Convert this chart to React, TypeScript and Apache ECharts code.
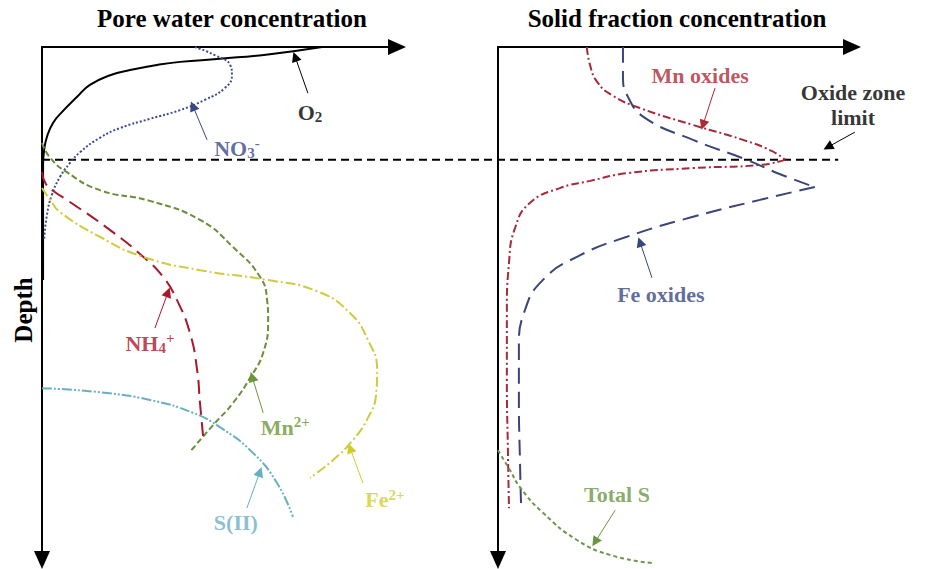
import React, { useEffect, useRef } from 'react';
import * as echarts from 'echarts';

// ---- Titles / names ----
const panelTitles = ['Pore water concentration', 'Solid fraction concentration'];
const depthName = 'Depth';

// ---- Pore water profiles: [concentration (a.u.), depth (a.u.)] ----
const o2 = [[78.9, 0], [64.2, 1.4], [50.1, 2.3], [38.9, 2.9], [32.4, 3.5], [24.8, 4.5], [19.2, 5.5], [13.5, 7.4], [9.9, 9.7], [5.6, 12.7], [3.1, 14.8], [1.4, 17.5], [0.6, 20.1], [0.3, 23.0], [0.3, 45.4]];
const no3 = [[43.1, 0], [48.7, 1.6], [53.0, 3.5], [53.5, 5.5], [51.5, 8.0], [45.9, 10.3], [38.9, 12.3], [30.4, 14.0], [22.0, 15.8], [16.3, 17.7], [10.7, 20.5], [7.9, 22.6], [5.1, 25.3], [2.8, 28.8], [1.4, 32.7], [0.6, 37.6]];
const mn2 = [[0, 18.7], [2.3, 21.6], [7.0, 24.4], [16.3, 27.9], [30.4, 30.0], [44.5, 33.7], [53.8, 39.0], [61.4, 44.8], [63.4, 49.3], [63.7, 53.2], [62.3, 59.6], [58.6, 64.5], [53.8, 69.4], [48.2, 73.7], [41.7, 78.9]];
const nh4 = [[0, 24.4], [1.1, 26.7], [3.7, 28.3], [7.0, 29.8], [19.2, 35.7], [28.5, 40.9], [34.1, 44.8], [38.0, 49.3], [41.7, 55.8], [43.7, 63.0], [44.5, 69.4], [45.4, 76.0]];
const fe2 = [[0, 27.5], [2.3, 29.8], [5.1, 32.2], [16.3, 37.0], [28.5, 40.9], [44.5, 43.5], [63.4, 45.4], [77.5, 47.6], [86.8, 51.9], [91.8, 57.1], [94.4, 63.0], [94.1, 67.8], [91.8, 72.3], [87.6, 76.6], [82.0, 80.5], [75.5, 84.0]];
const s2 = [[0, 66.5], [16.3, 67.3], [30.4, 68.8], [42.5, 71.3], [50.1, 74.1], [59.4, 79.1], [66.2, 85.0], [70.7, 91.6]];

// ---- Solid fraction profiles ----
const mnOxUpper = [[25.1, 0], [26.0, 3.5], [28.0, 6.8], [32.2, 9.4], [40.1, 11.9], [55.1, 15.2], [69.2, 18.1], [77.4, 20.3], [81.1, 22.0]];
const mnOxLower = [[81.1, 22.0], [74.0, 23.0], [55.1, 23.6], [36.4, 24.6], [26.0, 26.1], [17.5, 27.5], [9.0, 30.4], [4.8, 35.3], [3.1, 42.1], [2.5, 51.9], [2.5, 64.9], [2.8, 78.6], [3.1, 89.9]];
const feOxUpper = [[35.3, 0], [35.3, 5.5], [36.7, 9.7], [41.5, 13.8], [55.1, 18.1], [70.3, 22.0], [79.7, 24.8], [89.5, 27.3]];
const feOxLower = [[89.5, 27.3], [74.0, 29.8], [55.1, 33.1], [36.4, 37.0], [22.3, 40.9], [12.7, 45.4], [7.6, 51.3], [5.9, 58.5], [5.9, 68.8], [6.2, 80.5], [6.5, 88.9]];
const totalS = [[0, 78.6], [3.4, 82.5], [6.2, 85.8], [12.7, 90.8], [22.3, 96.1], [31.6, 99.0], [43.5, 100.6]];

// ---- Oxide zone limit (full-width frame) ----
const oxideLimit = [[0, 22], [98.3, 22]];

// ---- Annotation labels ----
const poreLabels = [
  { text: '{m|O}{sub|2}', at: [75.5, 12.7], color: '#000000' },
  { text: '{m|NO}{sub|3}{sup|-}', at: [54.9, 19.7], color: '#3a4788' },
  { text: '{m|NH}{sub|4}{sup|+}', at: [30.4, 57.7], color: '#a8182c' },
  { text: '{m|Mn}{sup|2+}', at: [68.5, 74.1], color: '#6a9636' },
  { text: '{m|Fe}{sup|2+}', at: [96.6, 88.3], color: '#d2cd2e' },
  { text: '{m|S(II)}', at: [54.6, 92.6], color: '#68b0c4' },
];
const solidLabels = [
  { text: '{m|Mn oxides}', at: [57.1, 5.5], color: '#ad2a35' },
  { text: '{m|Fe oxides}', at: [46.0, 48.3], color: '#384680' },
  { text: '{m|Total S}', at: [33.6, 87.3], color: '#6a9644' },
  { text: '{m|Oxide zone}\n{m|limit}', at: [100.3, 11.3], color: '#000000' },
];

// ---- Annotation arrows ----
const poreArrows = [
  { from: [74.9, 9.0], to: [71.3, 1.9], color: '#000000' },
  { from: [46.5, 18.1], to: [42.5, 11.5], color: '#3a4788' },
  { from: [31.8, 54.8], to: [35.5, 47.8], color: '#a8182c' },
  { from: [62.3, 71.3], to: [59.2, 64.3], color: '#6a9636' },
  { from: [90.4, 85.0], to: [86.8, 78.2], color: '#d2cd2e' },
  { from: [57.7, 89.9], to: [61.4, 82.8], color: '#68b0c4' },
];
const solidArrows = [
  { from: [61.3, 8.0], to: [57.9, 15.2], color: '#ad2a35' },
  { from: [43.5, 45.0], to: [40.1, 38.0], color: '#384680' },
  { from: [33.1, 90.3], to: [27.4, 96.5], color: '#6a9644' },
  { from: [100.8, 16.6], to: [93.2, 19.5], color: '#000000' },
];

const FONT = '"Liberation Serif", "DejaVu Serif", serif';

const rich = {
  m: { fontFamily: FONT, fontWeight: 'bold', fontSize: 22, lineHeight: 25 },
  sub: { fontFamily: FONT, fontWeight: 'bold', fontSize: 15, lineHeight: 14, verticalAlign: 'bottom' },
  sup: { fontFamily: FONT, fontWeight: 'bold', fontSize: 15, lineHeight: 14, verticalAlign: 'top' },
};

function profile(data: number[][], color: string, dash: any, idx: number, smooth: number | boolean = 0.5) {
  return {
    type: 'line',
    xAxisIndex: idx,
    yAxisIndex: idx,
    data,
    smooth,
    showSymbol: false,
    symbol: 'none',
    clip: false,
    silent: true,
    lineStyle: { color, width: 2, type: dash },
    z: 3,
  };
}

function labelSeries(items: any[], idx: number) {
  return {
    type: 'scatter',
    xAxisIndex: idx,
    yAxisIndex: idx,
    symbolSize: 1,
    clip: false,
    silent: true,
    itemStyle: { color: 'rgba(0,0,0,0)' },
    z: 5,
    data: items.map((it) => ({
      value: it.at,
      label: { show: true, position: 'inside', formatter: it.text, color: it.color, rich, align: 'center' },
    })),
  };
}

function arrowSeries(items: any[], idx: number) {
  return {
    type: 'lines',
    coordinateSystem: 'cartesian2d',
    xAxisIndex: idx,
    yAxisIndex: idx,
    clip: false,
    silent: true,
    symbol: ['none', 'triangle'],
    symbolSize: [7, 10],
    z: 5,
    lineStyle: { width: 1, opacity: 1 },
    data: items.map((a) => ({ coords: [a.from, a.to], lineStyle: { color: a.color, width: 1, opacity: 1 } })),
  };
}

const axisLineStyle = { color: '#000', width: 2 };

function xAx(gridIndex: number, visible: boolean) {
  return {
    gridIndex,
    type: 'value',
    min: 0,
    max: 100,
    position: 'top',
    show: visible,
    axisLine: { show: visible, onZero: false, symbol: ['none', 'triangle'], symbolSize: [16, 18], lineStyle: axisLineStyle },
    axisTick: { show: false },
    axisLabel: { show: false },
    splitLine: { show: false },
  };
}
function yAx(gridIndex: number, visible: boolean) {
  return {
    gridIndex,
    type: 'value',
    min: 0,
    max: 100,
    inverse: true,
    show: visible,
    axisLine: { show: visible, onZero: false, symbol: ['triangle', 'none'], symbolSize: [16, 18], lineStyle: axisLineStyle },
    axisTick: { show: false },
    axisLabel: { show: false },
    splitLine: { show: false },
  };
}

export default function App() {
  const ref = useRef<HTMLDivElement>(null);
  useEffect(() => {
    if (!ref.current) return;
    const chart = echarts.init(ref.current, null, { renderer: 'svg' });
    chart.setOption({
      animation: false,
      backgroundColor: '#ffffff',
      grid: [
        { left: 42, top: 47, width: 355, height: 513 },
        { left: 498, top: 47, width: 354, height: 513 },
        { left: 42, top: 47, width: 810, height: 513 },
      ],
      xAxis: [xAx(0, true), xAx(1, true), xAx(2, false)],
      yAxis: [yAx(0, true), yAx(1, true), yAx(2, false)],
      graphic: [
        { type: 'text', x: 232, y: 18, style: { text: panelTitles[0], font: `bold 25px ${FONT}`, fill: '#000', textAlign: 'center', textVerticalAlign: 'middle' } },
        { type: 'text', x: 677, y: 18, style: { text: panelTitles[1], font: `bold 25px ${FONT}`, fill: '#000', textAlign: 'center', textVerticalAlign: 'middle' } },
        { type: 'text', x: 23, y: 310, rotation: Math.PI / 2, style: { text: depthName, font: `bold 25px ${FONT}`, fill: '#000', textAlign: 'center', textVerticalAlign: 'middle' } },
      ],
      series: [
        profile(oxideLimit, '#000000', [8, 5], 2, false),
        profile(o2, '#000000', 'solid', 0),
        profile(no3, '#3d4b8e', [2, 2], 0),
        profile(mn2, '#6b8e3a', [6, 3], 0),
        profile(nh4, '#a8182c', [14, 7], 0),
        profile(fe2, '#cfcb3e', [10, 3, 2, 3], 0),
        profile(s2, '#6ab0c0', [10, 2, 2, 2, 2, 2], 0),
        profile(mnOxUpper, '#a52a3a', [8, 3, 2, 3], 1),
        profile(mnOxLower, '#a52a3a', [8, 3, 2, 3], 1),
        profile(feOxUpper, '#3a4676', [16, 8], 1),
        profile(feOxLower, '#3a4676', [16, 8], 1),
        profile(totalS, '#6e9650', [4, 3], 1),
        arrowSeries(poreArrows, 0),
        arrowSeries(solidArrows, 1),
        labelSeries(poreLabels, 0),
        labelSeries(solidLabels, 1),
      ],
    });
    return () => chart.dispose();
  }, []);
  return <div ref={ref} style={{ position: 'absolute', left: 0, top: 0, width: 925, height: 569 }} />;
}
